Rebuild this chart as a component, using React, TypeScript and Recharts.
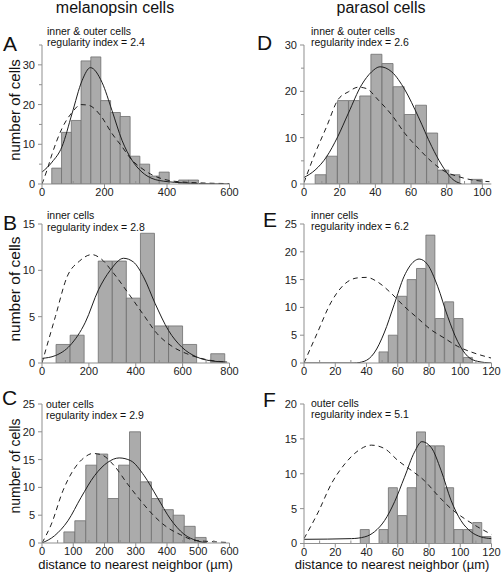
import { Bar, BarChart, ComposedChart, Line, XAxis, YAxis } from "recharts"

const FONT = "'Liberation Sans', Arial, Helvetica, sans-serif"
const AXIS_COLOR = "#8f8f8f"
const BAR_FILL = "#ababab"
const BAR_STROKE = "#6e6e6e"
const CURVE = "#1e1e1e"

// A: melanopsin, inner & outer cells
const melAllBins = [46.875, 78.125, 109.375, 140.625, 171.875, 203.125, 234.375, 265.625, 296.875, 328.125, 359.375, 390.625, 421.875, 453.125, 484.375]
const melAllCounts = [4, 13, 16, 31, 32, 21, 18, 17, 7, 5, 2, 3, 0, 1, 1]
const melAllFit = [[0, 3], [32, 5.5], [64, 9.4], [96, 17.7], [128, 26], [155, 29.3], [192, 25.6], [224, 18.5], [256, 11], [288, 6], [320, 3], [352, 1.4], [400, 0.6], [450, 0.3], [500, 0.1], [600, 0]]
const melAllRandom = [[0, 0], [16, 3.5], [32, 7.5], [64, 14], [96, 18], [125, 20], [150, 19.8], [187, 17.3], [224, 12.7], [256, 9.4], [288, 6], [320, 3.9], [352, 2.3], [400, 1], [450, 0.5], [500, 0.3], [600, 0.1]]

// B: melanopsin, inner cells
const melInBins = [90, 150, 210, 270, 330, 390, 450, 510, 570, 630, 690, 750]
const melInCounts = [2, 3, 0, 11, 11, 7, 14, 4, 4, 2, 0, 1]
const melInFit = [[0, 0.5], [57, 0.8], [120, 1.9], [185, 4.4], [241, 7.9], [291, 10], [348, 11.3], [390, 10.9], [433, 9.3], [483, 6.4], [540, 3.5], [597, 1.7], [660, 0.65], [731, 0.2], [790, 0.1]]
const melInRandom = [[0, 0], [57, 5], [107, 9.3], [160, 11], [213, 11.7], [249, 11.3], [305, 9.7], [369, 7.5], [433, 5.2], [490, 3.2], [561, 1.7], [618, 1], [703, 0.36], [788, 0.1]]

// C: melanopsin, outer cells
const melOutBins = [87.5, 122.5, 157.5, 192.5, 227.5, 262.5, 297.5, 332.5, 367.5, 402.5, 437.5, 472.5, 507.5]
const melOutCounts = [2, 4, 14, 16, 8, 14, 20, 11, 8, 6, 5, 3, 1]
const melOutFit = [[0, 0], [40, 1.3], [83, 4], [125, 8.2], [168, 12.1], [210, 14.5], [247, 15.3], [284, 14.8], [327, 12.1], [369, 8.2], [411, 4.3], [454, 1.6], [496, 0.4], [528, 0]]
const melOutRandom = [[0, 0], [30, 3.4], [67, 9.4], [99, 13], [136, 15.4], [162, 16.1], [189, 15.9], [231, 13.9], [274, 10.6], [316, 7.6], [358, 4.9], [401, 2.8], [443, 1.5], [486, 0.5], [528, 0.3], [592, 0.1]]

// D: parasol, inner & outer cells
const parAllBins = [9.375, 15.625, 21.875, 28.125, 34.375, 40.625, 46.875, 53.125, 59.375, 65.625, 71.875, 78.125, 84.375, 90.625, 96.875]
const parAllCounts = [2, 6, 18, 18, 19, 28, 26, 21, 15, 17, 11, 3, 2, 0, 1]
const parAllFit = [[0, 1.4], [6.2, 3], [12.7, 5.9], [18.9, 10.2], [24.9, 15.3], [32.3, 21.4], [37.9, 24.2], [42.6, 25.3], [49.2, 24.2], [56.6, 20.3], [64.1, 14.5], [71.6, 8.1], [77.2, 4.1], [82.8, 1.2], [88.4, 0]]
const parAllRandom = [[0, 0.3], [6.2, 6.6], [12.7, 12.4], [18.9, 18.1], [24.9, 19.9], [30.5, 20.9], [35, 20.6], [41.7, 18.1], [49.2, 14.9], [56.6, 10.9], [64.1, 7.7], [71.6, 4.8], [79, 2.7], [86.5, 1.6], [94, 0.9], [104, 0.5]]

// E: parasol, inner cells
const parInBins = [51, 57, 63, 69, 75, 81, 87, 93, 99, 105]
const parInCounts = [2, 5, 12, 15, 17, 23, 8, 11, 8, 1]
const parInFit = [[0, 0], [32, 0], [38.5, 0.3], [44.9, 1.8], [51.3, 5.4], [57.7, 10.5], [64.1, 15.6], [70.5, 18.3], [73.7, 18.7], [79.1, 17.7], [85.5, 13.8], [91.9, 8.4], [98.3, 3.9], [104.7, 1.2], [111.1, 0.3], [120, 0]]
const parInRandom = [[0, 0], [8.5, 5.4], [17.1, 10.8], [25.6, 14.1], [34, 15.3], [40, 15.4], [47, 14.6], [55.6, 12.6], [64.1, 10.2], [72.6, 8.1], [81.2, 6], [89.7, 4.5], [98.3, 3], [106.8, 2], [119.7, 0.9]]

// F: parasol, outer cells
const parOutBins = [39, 45, 51, 57, 63, 69, 75, 81, 87, 93, 99, 105, 111, 117]
const parOutCounts = [2, 0, 2, 8, 4, 8, 16, 14, 14, 8, 2, 2, 3, 1]
const parOutFit = [[0, 0.6], [30.4, 0.7], [38.9, 0.95], [45.2, 1.7], [51.6, 3.3], [58, 6], [64.3, 9.5], [70.7, 13.1], [75.4, 14.6], [81.3, 13.8], [87.7, 10.5], [94.1, 6.2], [100.4, 3.3], [106.8, 1.7], [113.2, 0.95], [120, 0.7]]
const parOutRandom = [[0, 0.7], [9.1, 4.5], [17.6, 8.6], [26.1, 11.4], [34.6, 13.3], [43.1, 14.1], [51.6, 13.6], [60.1, 11.9], [68.6, 10.5], [77.1, 9], [85.6, 6.9], [94.1, 5], [102.5, 3.6], [111, 2.4], [120, 1.3]]

// axis ticks (labelled ones get a number, the rest are minor marks)
const ticks600by100 = [0, 100, 200, 300, 400, 500, 600]
const ticks600by50 = [0, 50, 100, 150, 200, 250, 300, 350, 400, 450, 500, 550, 600]
const ticks800 = [0, 100, 200, 300, 400, 500, 600, 700, 800]
const ticks100 = [0, 10, 20, 30, 40, 50, 60, 70, 80, 90, 100]
const ticks120 = [0, 10, 20, 30, 40, 50, 60, 70, 80, 90, 100, 110, 120]
const labels600by200 = [0, 200, 400, 600]
const labels600by100 = [0, 100, 200, 300, 400, 500, 600]
const labels800 = [0, 200, 400, 600, 800]
const labels100 = [0, 20, 40, 60, 80, 100]
const labels120 = [0, 20, 40, 60, 80, 100, 120]
const yTicks35 = [0, 5, 10, 15, 20, 25, 30, 35]
const yTicks30 = [0, 5, 10, 15, 20, 25, 30]
const yTicks25 = [0, 5, 10, 15, 20, 25]
const yTicks20 = [0, 5, 10, 15, 20]
const yTicks15 = [0, 5, 10, 15]
const yLabelsBy10 = [0, 10, 20, 30]

const Y_AXIS_W = 40
const X_AXIS_H = 28
const PAD_TOP = 6
const PAD_RIGHT = 14
const TICK_FONT = 11

type Curve = number[][]

type PanelProps = {
  left: number
  top: number
  plotW: number
  plotH: number
  bins: number[]
  counts: number[]
  fit: Curve
  random: Curve
  xMax: number
  xTicks: number[]
  xLabels: number[]
  yMax: number
  yTicks: number[]
  yLabels: number[]
}

const toPoints = (c: Curve) => c.map(([x, y]) => ({ x, y }))

const makeXTick = (labels: number[]) => (props: any) => {
  const { x, y, payload } = props
  const major = labels.includes(payload.value)
  return (
    <g>
      <line x1={x} x2={x} y1={y} y2={major ? y + 4 : y - 3} stroke={AXIS_COLOR} />
      {major && (
        <text x={x} y={y + 12} textAnchor='middle' fontSize={TICK_FONT} fill='#222' fontFamily={FONT}>
          {payload.value}
        </text>
      )}
    </g>
  )
}

const makeYTick = (labels: number[]) => (props: any) => {
  const { x, y, payload } = props
  const major = labels.includes(payload.value)
  return (
    <g>
      <line x1={x - (major ? 4 : 3)} x2={x} y1={y} y2={y} stroke={AXIS_COLOR} />
      {major && (
        <text x={x - 7} y={y} dy='0.36em' textAnchor='end' fontSize={TICK_FONT} fill='#222' fontFamily={FONT}>
          {payload.value}
        </text>
      )}
    </g>
  )
}

const Panel = (p: PanelProps) => {
  const width = p.plotW + Y_AXIS_W + PAD_RIGHT
  const height = p.plotH + PAD_TOP + X_AXIS_H
  const margin = { top: PAD_TOP, right: PAD_RIGHT, bottom: 0, left: 0 }
  const pos = { position: "absolute" as const, left: p.left - Y_AXIS_W, top: p.top - PAD_TOP }
  const hist = p.bins.map((x, i) => ({ x, n: p.counts[i] }))
  const xDomain = [0, p.xMax]
  const yDomain = [0, p.yMax]

  return (
    <>
      {/* histogram sits in its own chart so the bar width comes from the bin spacing only */}
      <div style={pos}>
        <BarChart width={width} height={height} data={hist} margin={margin} barCategoryGap={0} barGap={0}>
          <XAxis type='number' dataKey='x' domain={xDomain} allowDataOverflow height={X_AXIS_H} axisLine={false} tickLine={false} tick={false} />
          <YAxis type='number' domain={yDomain} allowDataOverflow width={Y_AXIS_W} axisLine={false} tickLine={false} tick={false} />
          <Bar dataKey='n' fill={BAR_FILL} stroke={BAR_STROKE} strokeWidth={0.8} isAnimationActive={false} />
        </BarChart>
      </div>
      <div style={pos}>
        <ComposedChart width={width} height={height} margin={margin}>
          <XAxis
            type='number'
            dataKey='x'
            domain={xDomain}
            allowDataOverflow
            ticks={p.xTicks}
            interval={0}
            height={X_AXIS_H}
            axisLine={{ stroke: AXIS_COLOR }}
            tickLine={false}
            tickSize={0}
            tickMargin={0}
            tick={makeXTick(p.xLabels)}
          />
          <YAxis
            type='number'
            domain={yDomain}
            allowDataOverflow
            ticks={p.yTicks}
            interval={0}
            width={Y_AXIS_W}
            axisLine={{ stroke: AXIS_COLOR }}
            tickLine={false}
            tickSize={0}
            tickMargin={0}
            tick={makeYTick(p.yLabels)}
          />
          <Line data={toPoints(p.random)} dataKey='y' type='monotone' stroke={CURVE} strokeWidth={1} strokeDasharray='5 4' dot={false} isAnimationActive={false} />
          <Line data={toPoints(p.fit)} dataKey='y' type='monotone' stroke={CURVE} strokeWidth={1} dot={false} isAnimationActive={false} />
        </ComposedChart>
      </div>
    </>
  )
}

const X_TITLE = "distance to nearest neighbor (µm)"
const Y_TITLE = "number of cells"

const Note = ({ x, y, lines }: { x: number; y: number[]; lines: string[] }) => (
  <>
    {lines.map((t, i) => (
      <text key={t} x={x} y={y[i]} fontSize={10.5}>
        {t}
      </text>
    ))}
  </>
)

const Overlay = () => (
  <svg width={502} height={576} style={{ position: "absolute", left: 0, top: 0, pointerEvents: "none" }} fontFamily={FONT} fill='#111'>
    <text x={115} y={13} fontSize={16} textAnchor='middle'>melanopsin cells</text>
    <text x={381} y={13} fontSize={16} textAnchor='middle'>parasol cells</text>

    <text x={3} y={50.5} fontSize={21}>A</text>
    <text x={3} y={230} fontSize={21}>B</text>
    <text x={2} y={405} fontSize={21}>C</text>
    <text x={257} y={50} fontSize={21}>D</text>
    <text x={263} y={227} fontSize={21}>E</text>
    <text x={263} y={407} fontSize={21}>F</text>

    <Note x={47} y={[35, 46]} lines={["inner & outer cells", "regularity index = 2.4"]} />
    <Note x={47} y={[219, 230.5]} lines={["inner cells", "regularity index = 2.8"]} />
    <Note x={46} y={[407.5, 419]} lines={["outer cells", "regularity index = 2.9"]} />
    <Note x={311} y={[35, 45.5]} lines={["inner & outer cells", "regularity index = 2.6"]} />
    <Note x={311} y={[219, 230]} lines={["inner cells", "regularity index = 6.2"]} />
    <Note x={311} y={[406.5, 417.5]} lines={["outer cells", "regularity index = 5.1"]} />

    <text transform='translate(19.5,110) rotate(-90)' fontSize={15} textAnchor='middle'>{Y_TITLE}</text>
    <text transform='translate(19.5,289) rotate(-90)' fontSize={15.5} textAnchor='middle'>{Y_TITLE}</text>
    <text transform='translate(19.5,466) rotate(-90)' fontSize={14} textAnchor='middle'>{Y_TITLE}</text>

    <text x={135.5} y={568.5} fontSize={13} textAnchor='middle'>{X_TITLE}</text>
    <text x={392} y={568.5} fontSize={13} textAnchor='middle'>{X_TITLE}</text>
  </svg>
)

export default function App() {
  return (
    <div style={{ position: "absolute", left: 0, top: 0, width: 502, height: 576, background: "#fff", fontFamily: FONT }}>
      <Panel left={42} top={45} plotW={187.5} plotH={139} bins={melAllBins} counts={melAllCounts} fit={melAllFit} random={melAllRandom}
        xMax={600} xTicks={ticks600by100} xLabels={labels600by200} yMax={35} yTicks={yTicks35} yLabels={yLabelsBy10} />
      <Panel left={42} top={224} plotW={187.5} plotH={139} bins={melInBins} counts={melInCounts} fit={melInFit} random={melInRandom}
        xMax={800} xTicks={ticks800} xLabels={labels800} yMax={15} yTicks={yTicks15} yLabels={yTicks15} />
      <Panel left={42} top={403.5} plotW={187.5} plotH={139} bins={melOutBins} counts={melOutCounts} fit={melOutFit} random={melOutRandom}
        xMax={600} xTicks={ticks600by50} xLabels={labels600by100} yMax={25} yTicks={yTicks25} yLabels={yTicks25} />
      <Panel left={303.5} top={45} plotW={187.3} plotH={139} bins={parAllBins} counts={parAllCounts} fit={parAllFit} random={parAllRandom}
        xMax={105} xTicks={ticks100} xLabels={labels100} yMax={30} yTicks={yTicks30} yLabels={yLabelsBy10} />
      <Panel left={304} top={224} plotW={187.5} plotH={139} bins={parInBins} counts={parInCounts} fit={parInFit} random={parInRandom}
        xMax={120} xTicks={ticks120} xLabels={labels120} yMax={25} yTicks={yTicks25} yLabels={yTicks25} />
      <Panel left={304} top={403.5} plotW={187.5} plotH={139.5} bins={parOutBins} counts={parOutCounts} fit={parOutFit} random={parOutRandom}
        xMax={120} xTicks={ticks120} xLabels={labels120} yMax={20} yTicks={yTicks20} yLabels={yTicks20} />
      <Overlay />
    </div>
  )
}
